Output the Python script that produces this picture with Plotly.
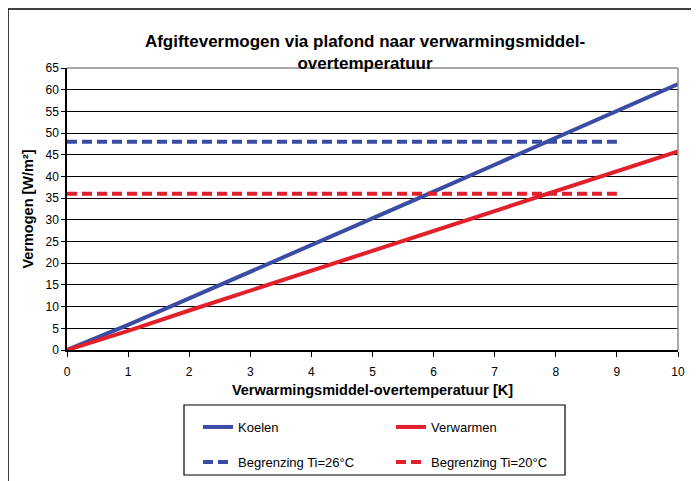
import plotly.graph_objects as go

x_vals = [0, 1, 2, 3, 4, 5, 6, 7, 8, 9, 10]
koelen = [0, 5.8, 11.9, 18.0, 24.1, 30.3, 36.5, 42.7, 48.9, 55.1, 61.3]
verwarmen = [0, 4.4, 9.1, 13.7, 18.3, 22.9, 27.5, 32.0, 36.6, 41.2, 45.8]
grens_x = [0, 9]
grens_26 = [48, 48]
grens_20 = [36, 36]

BLUE = "#3A4CA3"
RED = "#E2202B"
FONT = "Liberation Sans, Arial, sans-serif"

# figure is offset by the page's 8px body margin
W, H = 691, 473
L, R, T, B = 59, 21, 60, 131
PW, PH = W - L - R, H - T - B


def px(sx):
    return (sx - 8 - L) / PW


def py(sy):
    return (H - B - (sy - 8)) / PH


fig = go.Figure()
fig.add_trace(go.Scatter(x=x_vals, y=koelen, mode="lines", name="Koelen",
                         line=dict(color=BLUE, width=4), legend="legend"))
fig.add_trace(go.Scatter(x=x_vals, y=verwarmen, mode="lines", name="Verwarmen",
                         line=dict(color=RED, width=4), legend="legend"))
fig.add_trace(go.Scatter(x=grens_x, y=grens_26, mode="lines", name="Begrenzing Ti=26°C",
                         line=dict(color=BLUE, width=4, dash="10px,5px"), legend="legend2"))
fig.add_trace(go.Scatter(x=grens_x, y=grens_20, mode="lines", name="Begrenzing Ti=20°C",
                         line=dict(color=RED, width=4, dash="10px,5px"), legend="legend2"))

# partial outer frame (top and left edges)
fig.add_shape(type="line", xref="paper", yref="paper", x0=px(8), x1=px(720), y0=py(9), y1=py(9),
              line=dict(color="black", width=1.5))
fig.add_shape(type="line", xref="paper", yref="paper", x0=px(8), x1=px(8), y0=py(9), y1=py(500),
              line=dict(color="black", width=1.5))
# legend box
fig.add_shape(type="rect", xref="paper", yref="paper", x0=px(184), x1=px(565), y0=py(405), y1=py(475),
              line=dict(color="black", width=1.2), fillcolor="rgba(0,0,0,0)")
# grey border on top/right of plot area
fig.add_shape(type="line", xref="paper", yref="paper", x0=0, x1=1, y0=1, y1=1,
              line=dict(color="#8c8c8c", width=1.5))
fig.add_shape(type="line", xref="paper", yref="paper", x0=1, x1=1, y0=0, y1=1,
              line=dict(color="#8c8c8c", width=1.5))

leg_common = dict(orientation="h", xanchor="left", yanchor="middle",
                  entrywidth=148, entrywidthmode="pixels",
                  borderwidth=0, bgcolor="rgba(0,0,0,0)",
                  font=dict(family=FONT, size=13, color="black"))

fig.update_layout(
    width=W, height=H,
    margin=dict(l=L, r=R, t=T, b=B, autoexpand=False),
    paper_bgcolor="white", plot_bgcolor="white",
    font=dict(family=FONT, size=11, color="black"),
    title=dict(text="<b>Afgiftevermogen via plafond naar verwarmingsmiddel-<br>overtemperatuur</b>",
               x=(365 - 8) / W, xref="container", xanchor="center",
               y=1 - (47 - 8) / H, yanchor="middle",
               font=dict(family=FONT, size=17, color="black")),
    showlegend=True,
    legend=dict(x=px(198), y=py(427), **leg_common),
    legend2=dict(x=px(198), y=py(462), **leg_common),
)
fig.update_xaxes(range=[0, 10], dtick=1, tick0=0, showgrid=False,
                 showline=True, linecolor="black", linewidth=1.5,
                 ticks="outside", ticklen=5, tickcolor="black",
                 ticklabelstandoff=5,
                 zeroline=False, tickfont=dict(size=12),
                 title=dict(text="<b>Verwarmingsmiddel-overtemperatuur [K]</b>",
                            font=dict(family=FONT, size=14.5), standoff=7))
fig.update_yaxes(range=[0, 65], dtick=5, tick0=0, showgrid=True, gridcolor="black", gridwidth=1,
                 showline=True, linecolor="black", linewidth=1.5,
                 ticks="outside", ticklen=4, tickcolor="black",
                 zeroline=False, tickfont=dict(size=12),
                 title=dict(text="<b>Vermogen [W/m²]</b>",
                            font=dict(family=FONT, size=14.5), standoff=8))

fig.write_html("out.html")
